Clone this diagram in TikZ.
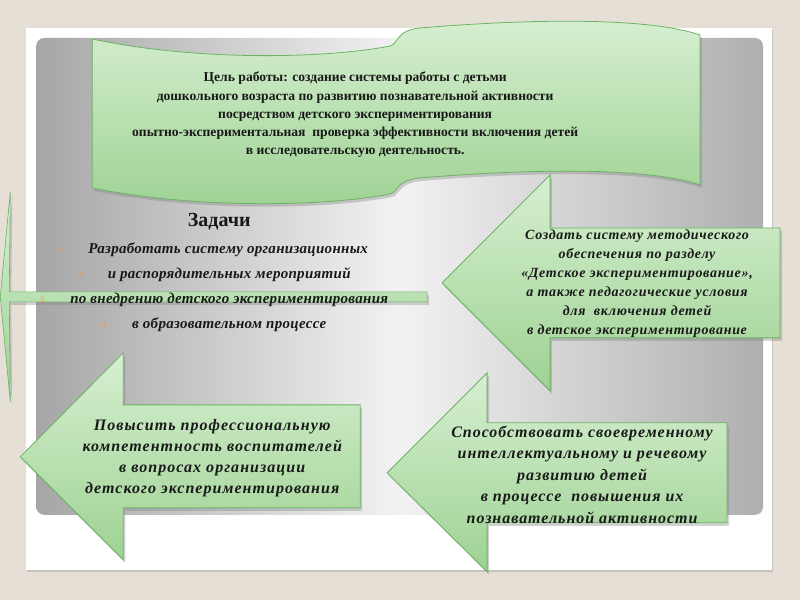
\documentclass[tikz,border=0pt]{standalone}
\usepackage{fontspec}
\setmainfont{Liberation Serif}
\usepackage{xcolor}
\usetikzlibrary{positioning,shadows}

\definecolor{pagebg}{HTML}{E6DFD6}
\definecolor{panelgray}{HTML}{A6A6A6}
\definecolor{greenlite}{HTML}{D6EFD1}
\definecolor{greendark}{HTML}{9ED293}
\definecolor{greenline}{HTML}{6CB364}
\definecolor{numorange}{HTML}{E49A4C}

\begin{document}
\begin{tikzpicture}[
            x=1pt, y=-1pt,
            every node/.style={inner sep=1pt, text=black!90},
            greenshape/.style={draw=greenline, line width=0.8pt, top color=greenlite, bottom color=greendark,
                drop shadow={shadow xshift=2pt, shadow yshift=-3pt, opacity=0.35}},
            maintext/.style={font=\bfseries\fontsize{13.6}{18.3}\selectfont, align=center},
            tasktext/.style={font=\bfseries\itshape\addfontfeatures{LetterSpace=2}\fontsize{15}{19}\selectfont, align=center},
            tasknum/.style={font=\itshape\fontsize{8}{9}\selectfont, text=numorange},
        ]
            % page, card and panel
            \fill[pagebg] (0,0) rectangle (800,600);
            \fill[white, drop shadow={shadow xshift=1pt, shadow yshift=-2pt, opacity=0.3}] (26,28) rectangle (772,570);
            \shade[left color=panelgray, right color=panelgray!90, middle color=white!95!black, rounded corners=8pt]
                (36,38) rectangle (763,515);

            % banner
            \path[greenshape] (92,39) .. controls (200,62) and (330,58) .. (390,46)
                .. controls (398,44) and (396,30) .. (420,28)
                .. controls (540,18) and (650,18) .. (700,35)
                -- (700,185) .. controls (650,168) and (540,168) .. (420,178)
                .. controls (396,180) and (398,192) .. (390,194)
                .. controls (330,206) and (200,210) .. (92,188) -- cycle;
            \node[maintext] (goal) at (355,115) {Цель работы: создание системы работы с детьми\\
                дошкольного возраста по развитию познавательной активности\\
                посредством детского экспериментирования\\
                опытно-экспериментальная\ \ проверка эффективности включения детей\\
                в исследовательскую деятельность.};

            % thin arrow on the left
            \path[greenshape, line width=0.6pt] (10,192) -- (0,297) -- (10,402) -- (9,302)
                -- (427,302) -- (427,292) -- (9,292) -- cycle;

            % arrows
            \path[greenshape] (442,283) -- (550,175) -- (550,228) -- (780,228)
                -- (780,338) -- (550,338) -- (550,391) -- cycle;
            \path[greenshape] (387,473) -- (487,373) -- (487,423) -- (727,423)
                -- (727,523) -- (487,523) -- (487,572) -- cycle;
            \path[greenshape] (20,457) -- (123,353) -- (123,405) -- (360,405)
                -- (360,508) -- (123,508) -- (123,560) -- cycle;

            % tasks
            \node[font=\bfseries\fontsize{20}{22}\selectfont] (title) at (219,222) {Задачи};
            \node[tasktext] (task1) at (228,250) {Разработать систему организационных};
            \node[tasktext] (task2) at (229,275) {и распорядительных мероприятий};
            \node[tasktext] (task3) at (229,300) {по внедрению детского экспериментирования};
            \node[tasktext] (task4) at (229,325) {в образовательном процессе};
            \node[tasknum, left=22pt of task1] (num1) {1.};
            \node[tasknum, left=22pt of task2] (num2) {2.};
            \node[tasknum, left=22pt of task3] (num3) {3.};
            \node[tasknum, left=22pt of task4] (num4) {4.};

            \node[tasktext, font=\bfseries\itshape\addfontfeatures{LetterSpace=5}\fontsize{14}{19}\selectfont] (method) at (637,284)
                {Создать систему методического\\ обеспечения по разделу\\ «Детское экспериментирование»,\\
                а также педагогические условия\\ для\ \ включения детей\\ в детское экспериментирование};
            \node[tasktext, font=\bfseries\itshape\addfontfeatures{LetterSpace=6.5}\fontsize{16}{21}\selectfont] (skill) at (212,458)
                {Повысить профессиональную\\ компетентность воспитателей\\ в вопросах организации\\
                детского экспериментирования};
            \node[tasktext, font=\bfseries\itshape\addfontfeatures{LetterSpace=6}\fontsize{16}{21.5}\selectfont] (growth) at (582,475)
                {Способствовать своевременному\\ интеллектуальному и речевому\\ развитию детей\\
                в процессе\ \ повышения их\\ познавательной активности};
        \end{tikzpicture}
\end{document}
